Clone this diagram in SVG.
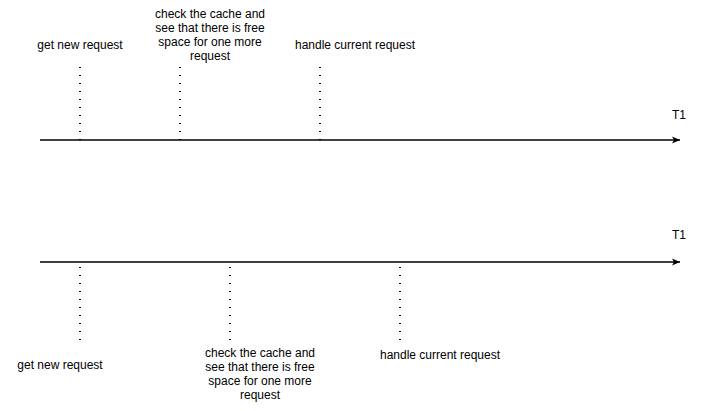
<svg xmlns="http://www.w3.org/2000/svg" width="711" height="411" viewBox="0 0 711 411">
<style>
text{font-family:"Liberation Sans",Arial,sans-serif;font-size:12px;fill:#000;text-anchor:middle}
.axis{stroke:#000;stroke-width:1.3;fill:none}
.dot{stroke:#000;stroke-width:2;stroke-dasharray:1 7;fill:none}
</style>
<defs>
<marker id="arr" markerWidth="10" markerHeight="10" refX="9" refY="5" orient="auto" markerUnits="userSpaceOnUse">
<path d="M1,1.5 L9,5 L1,8.5 L3,5 Z" fill="#000"/>
</marker>
</defs>
<g id="connectors">
<line class="axis" x1="40" y1="140" x2="680" y2="140" marker-end="url(#arr)"/>
<line class="axis" x1="40" y1="262" x2="680" y2="262" marker-end="url(#arr)"/>
<line class="dot" x1="80" y1="67" x2="80" y2="140"/>
<line class="dot" x1="180" y1="67" x2="180" y2="140"/>
<line class="dot" x1="320" y1="67" x2="320" y2="140"/>
<line class="dot" x1="80" y1="267" x2="80" y2="342"/>
<line class="dot" x1="230" y1="267" x2="230" y2="342"/>
<line class="dot" x1="400" y1="267" x2="400" y2="342"/>
</g>
<g id="t1-top"><text x="679" y="119">T1</text></g>
<g id="t1-bottom"><text x="679" y="239">T1</text></g>
<g id="top-get"><text x="80" y="49">get new request</text></g>
<g id="top-check"><text x="210" y="18">check the cache and</text><text x="210" y="32">see that there is free</text><text x="210" y="46">space for one more</text><text x="210" y="60">request</text></g>
<g id="top-handle"><text x="355" y="49">handle current request</text></g>
<g id="bot-get"><text x="60" y="369">get new request</text></g>
<g id="bot-check"><text x="260" y="357">check the cache and</text><text x="260" y="371">see that there is free</text><text x="260" y="385">space for one more</text><text x="260" y="399">request</text></g>
<g id="bot-handle"><text x="440" y="359">handle current request</text></g>
</svg>
